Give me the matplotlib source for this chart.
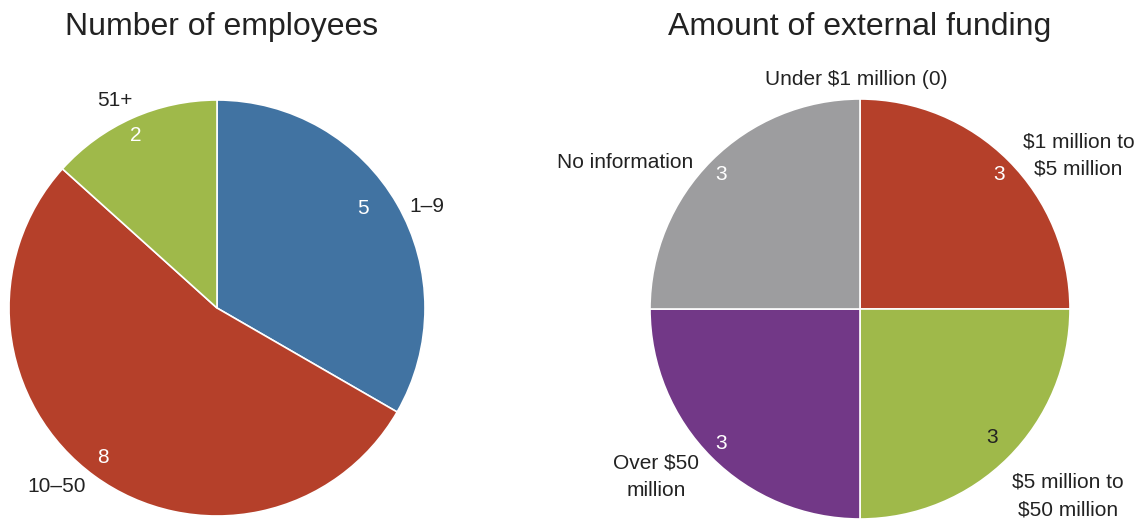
import matplotlib.pyplot as plt

plt.rcParams['font.family'] = ['Liberation Sans', 'DejaVu Sans']

# left pie: number of employees
emp_labels = ['1–9', '10–50', '51+']
emp_values = [5, 8, 2]
emp_colors = ['#4173a2', '#b5402a', '#9fb94a']

# right pie: external funding
fund_labels = ['Under $1 million (0)', '$1 million to\n$5 million',
               '$5 million to\n$50 million', 'Over $50\nmillion', 'No information']
fund_values = [0, 3, 3, 3, 3]
fund_colors = ['#ffffff', '#b5402a', '#9fb94a', '#723887', '#9d9d9f']

W, H = 1145, 521
fig = plt.figure(figsize=(W / 100, H / 100), dpi=100)


def pie_axes(cx, cy, r):
    # cx, cy in pixels from top-left
    ax = fig.add_axes([(cx - r) / W, (H - cy - r) / H, 2 * r / W, 2 * r / H])
    ax.set_xlim(-1, 1)
    ax.set_ylim(-1, 1)
    ax.axis('off')
    return ax


wedge_kw = dict(edgecolor='white', linewidth=1.2)

ax1 = pie_axes(217, 308, 208)
ax1.pie(emp_values, colors=emp_colors, startangle=90, counterclock=False,
        radius=1, wedgeprops=wedge_kw)
ax1.set_xlim(-1, 1)
ax1.set_ylim(-1, 1)

emp_label_pos = [(1.01, 0.49), (-0.77, -0.86), (-0.49, 1.0)]
emp_value_pos = [(0.70, 0.48), (-0.55, -0.72), (-0.39, 0.83)]
for lab, val, lp, vp in zip(emp_labels, emp_values, emp_label_pos, emp_value_pos):
    ax1.text(*lp, lab, ha='center', va='center', fontsize=15, color='#222222', clip_on=False)
    ax1.text(*vp, str(val), ha='center', va='center', fontsize=15, color='white')

ax1.text(0.02, 1.3125, 'Number of employees', ha='center', va='baseline',
         fontsize=23, color='#222222', clip_on=False)

ax2 = pie_axes(860, 309, 210)
ax2.pie(fund_values, colors=fund_colors, startangle=90, counterclock=False,
        radius=1, wedgeprops=wedge_kw)
ax2.set_xlim(-1, 1)
ax2.set_ylim(-1, 1)

fund_label_pos = [(-0.02, 1.095), (1.04, 0.73), (0.99, -0.89), (-0.97, -0.80), (-1.12, 0.70)]
fund_value_pos = [None, (0.66, 0.64), (0.63, -0.61), (-0.66, -0.64), (-0.66, 0.64)]
fund_value_colors = [None, 'white', '#222222', 'white', 'white']
for lab, val, lp, vp, vc in zip(fund_labels, fund_values, fund_label_pos,
                                fund_value_pos, fund_value_colors):
    ax2.text(*lp, lab, ha='center', va='center', fontsize=15, color='#222222',
             linespacing=1.55, clip_on=False)
    if vp is not None:
        ax2.text(*vp, str(val), ha='center', va='center', fontsize=15, color=vc)

ax2.text(0.0, 1.305, 'Amount of external funding', ha='center', va='baseline',
         fontsize=23, color='#222222', clip_on=False)

fig.savefig('out.png', dpi=100, facecolor='white')
